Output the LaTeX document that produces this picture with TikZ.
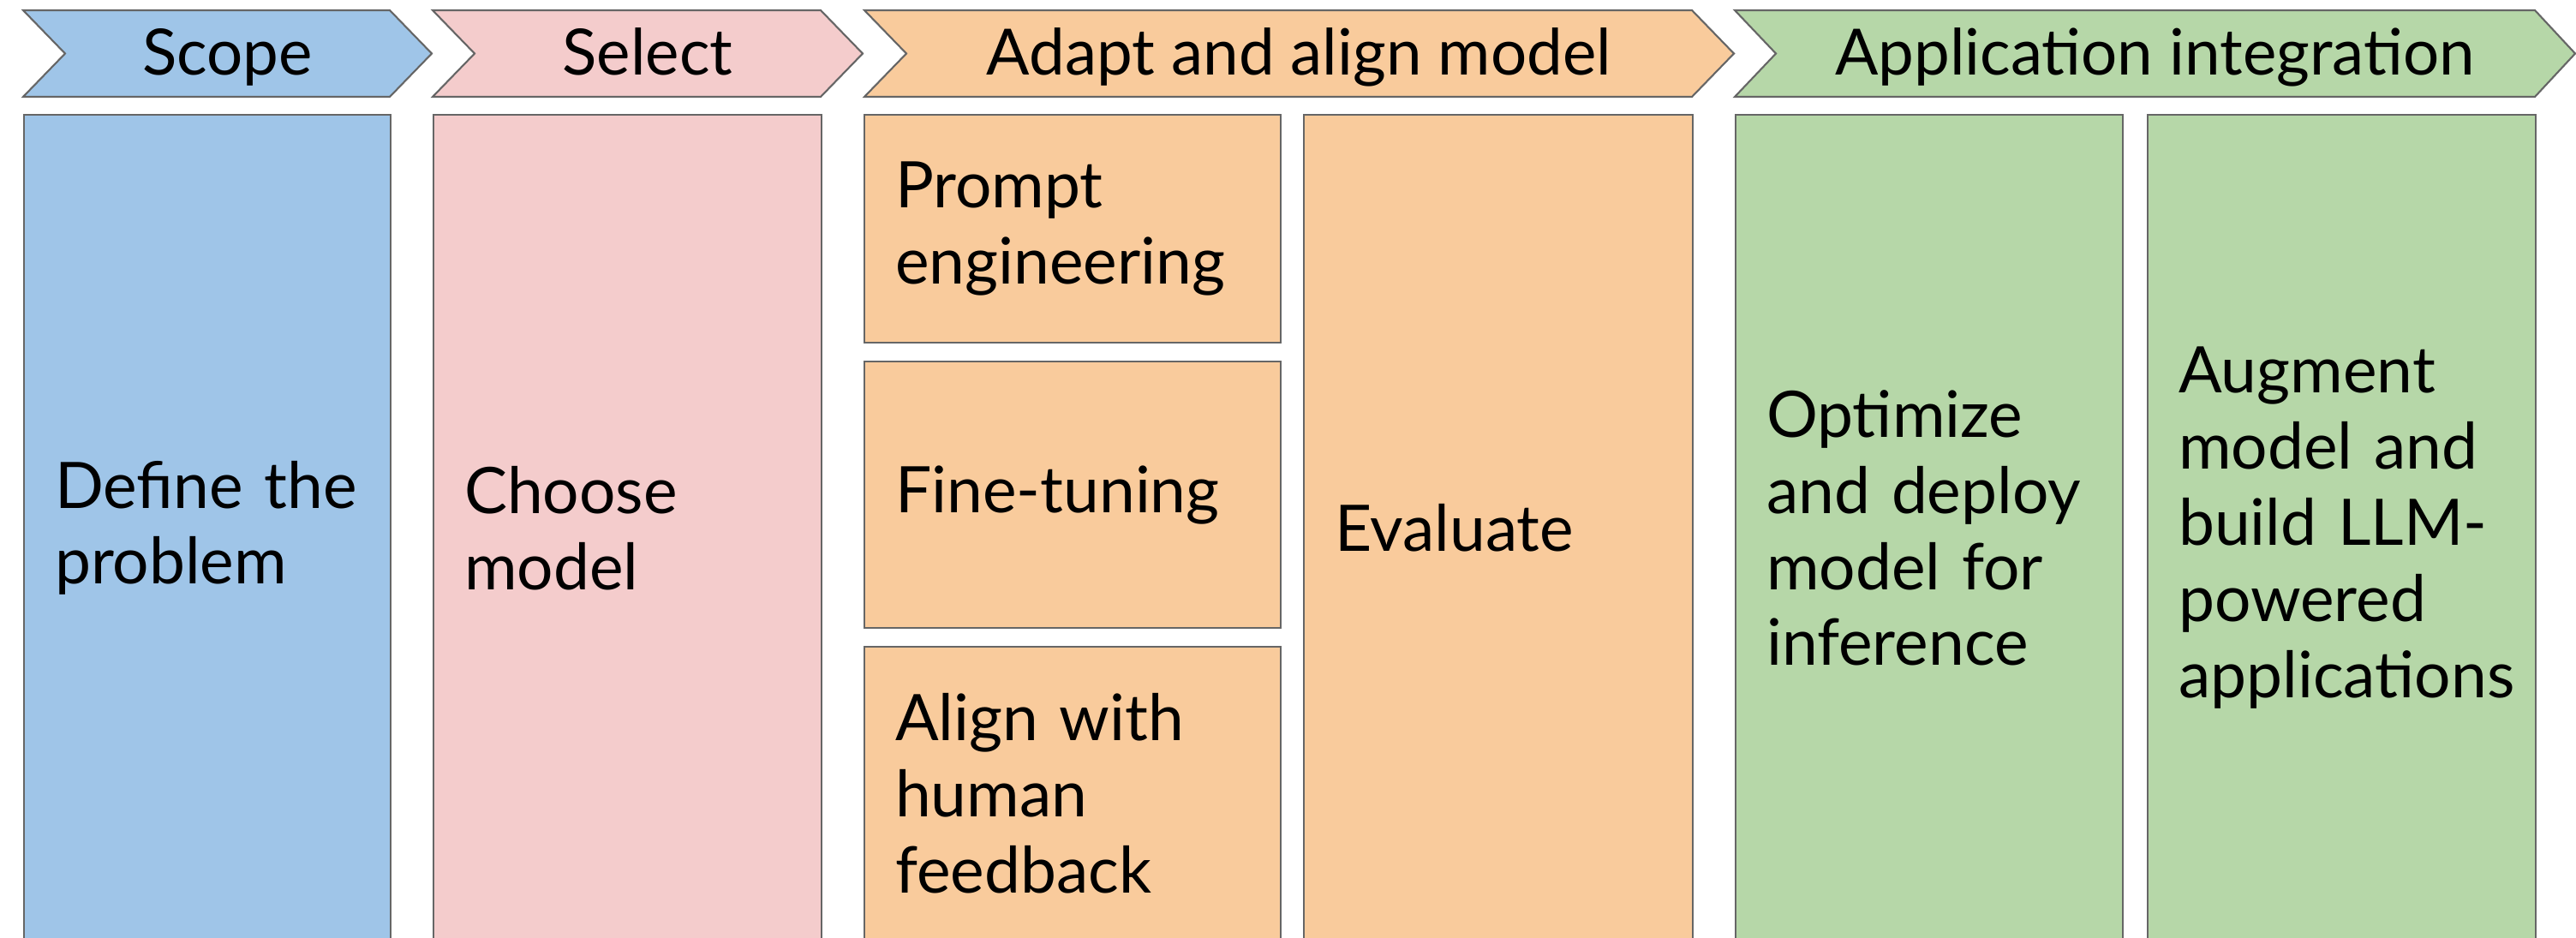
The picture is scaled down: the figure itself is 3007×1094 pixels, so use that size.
\documentclass[tikz,border=0pt]{standalone}
\usepackage{xcolor}
\usepackage{fontspec}
\setmainfont{Lato}
\usepackage{tikz}

\definecolor{edge}{HTML}{666666}
\definecolor{scopeblue}{HTML}{9FC5E8}
\definecolor{selectpink}{HTML}{F4CCCC}
\definecolor{adaptorange}{HTML}{F9CB9C}
\definecolor{appgreen}{HTML}{B6D7A8}
\hyphenpenalty=10000

\begin{document}
\begin{tikzpicture}[x=0.01cm, y=-0.01cm,
    chevron/.style={draw=edge, line width=0.6pt, line join=miter},
    headtxt/.style={anchor=base, inner sep=0pt, font=\fontsize{21.2pt}{25pt}\selectfont},
    stagebox/.style={draw=edge, line width=0.6pt, anchor=north west, inner xsep=0.36cm,
        inner ysep=0pt, align=left, font=\fontsize{21.3pt}{25.3pt}\selectfont}]
    \useasboundingbox (0,0) rectangle (3007,1094);
    % stage headers
    \draw [chevron, fill=scopeblue] (27,12) -- (455,12) -- (504,62.5) -- (455,113) %
        -- (27,113) -- (76,62.5) -- cycle;
    \draw [chevron, fill=selectpink] (505,12) -- (958,12) -- (1007,62.5) -- (958,113) %
        -- (505,113) -- (554,62.5) -- cycle;
    \draw [chevron, fill=adaptorange] (1009,12) -- (1975,12) -- (2024,62.5) -- (1975,113) %
        -- (1009,113) -- (1058,62.5) -- cycle;
    \draw [chevron, fill=appgreen] (2025,12) -- (2959,12) -- (3006,62.5) -- (2959,113) %
        -- (2025,113) -- (2073,62.5) -- cycle;
    \node [headtxt] (scope) at (265.5,88) {Scope};
    \node [headtxt] (select) at (756,88) {Select};
    \node [headtxt] (adapt) at (1516.5,88) {Adapt and align model};
    \node [headtxt] (app) at (2515.5,88) {Application integration};
    % stage boxes
    \node [stagebox, fill=scopeblue, minimum width=4.28cm, minimum height=9.64cm, %
        text width=3.56cm] (define) at (27,133) {Define~the\\problem};
    \node [stagebox, fill=selectpink, minimum width=4.53cm, minimum height=9.64cm, %
        text width=3.81cm] (choose) at (505,133) {Choose\\model};
    \node [stagebox, fill=adaptorange, minimum width=4.86cm, minimum height=2.66cm, %
        text width=4.14cm] (prompt) at (1008,133) {Prompt\\engineering};
    \node [stagebox, fill=adaptorange, minimum width=4.86cm, minimum height=3.11cm, %
        text width=4.14cm] (finetune) at (1008,421) {Fine-tuning};
    \node [stagebox, fill=adaptorange, minimum width=4.86cm, minimum height=3.43cm, %
        text width=4.14cm] (align) at (1008,754) {Align~with\\human\\feedback};
    \node [stagebox, fill=adaptorange, minimum width=4.54cm, minimum height=9.64cm, %
        text width=3.82cm] (evaluate) at (1521,133) {Evaluate};
    \node [stagebox, fill=appgreen, minimum width=4.52cm, minimum height=9.64cm, %
        text width=3.80cm] (deploy) at (2025,133) %
        {Optimize\\and~deploy\\model~for\\inference};
    \node [stagebox, fill=appgreen, minimum width=4.53cm, minimum height=9.64cm, %
        text width=3.81cm] (augment) at (2506,133) %
        {Augment\\model~and\\build~LLM-\\powered\\applications};
\end{tikzpicture}
\end{document}
